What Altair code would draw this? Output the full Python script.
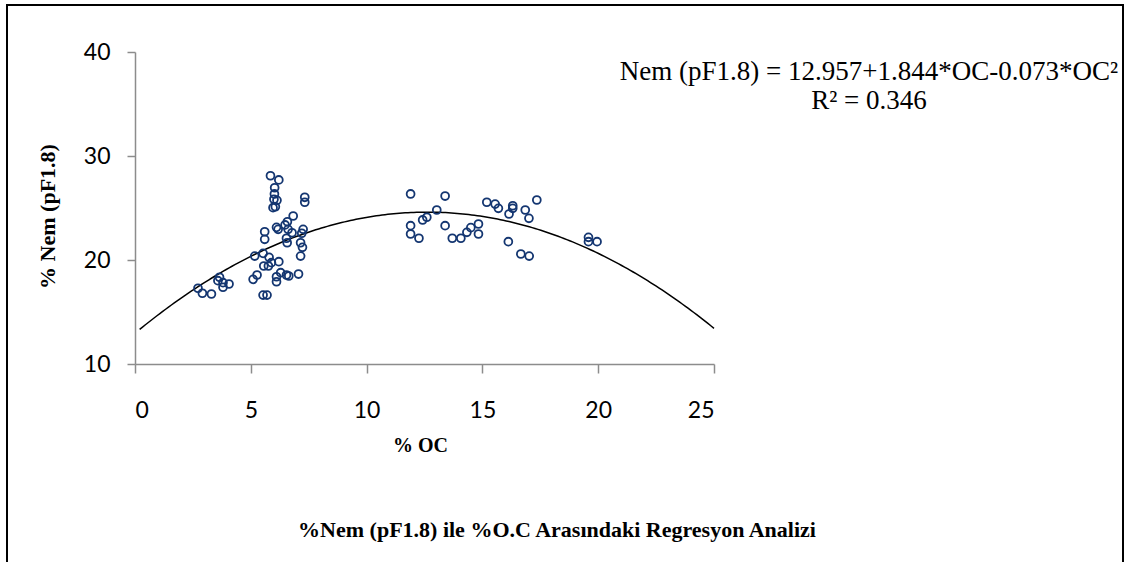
import altair as alt
import numpy as np
import pandas as pd

# Organic carbon (%) and moisture at pF 1.8 (%) for each sample
oc = [
    5.85, 6.21, 6.03, 6.02, 6.00, 6.13, 5.96, 6.06, 7.33, 7.33,
    6.83, 6.58, 6.48, 6.61, 6.11, 6.18, 5.60, 5.60, 7.26, 7.20,
    6.78, 6.54, 6.57, 7.15, 7.23, 7.15, 5.17, 5.53, 5.79, 5.89,
    6.21, 5.56, 5.76, 5.10, 5.27, 6.11, 6.29, 6.11, 6.54, 6.64,
    7.06, 3.65, 3.58, 3.80, 4.06, 3.80, 2.72, 2.91, 3.30, 5.53,
    5.70,
    11.90, 13.39, 13.03, 12.60, 12.42, 11.90, 11.90, 12.26, 13.39, 13.70,
    14.07, 14.33, 14.50, 14.83, 14.83, 15.19, 15.55, 15.69, 16.31, 16.31,
    16.15, 16.85, 17.01, 17.35, 16.12, 16.66, 17.02, 19.58, 19.58, 19.95,
]
nem = [
    28.1, 27.7, 26.95, 26.35, 25.84, 25.74, 25.03, 25.12, 26.03, 25.55,
    24.23, 23.68, 23.37, 22.95, 23.14, 22.95, 22.72, 21.99, 22.95, 22.57,
    22.62, 22.09, 21.66, 21.66, 21.22, 20.38, 20.38, 20.64, 20.26, 19.74,
    19.84, 19.42, 19.42, 18.14, 18.56, 18.39, 18.78, 17.91, 18.56, 18.46,
    18.65, 18.34, 18.01, 17.82, 17.69, 17.38, 17.28, 16.80, 16.73, 16.63,
    16.63,
    26.35, 26.15, 24.81, 24.11, 23.85, 23.30, 22.50, 22.09, 23.30, 22.09,
    22.09, 22.66, 23.11, 23.46, 22.50, 25.55, 25.38, 24.97, 25.22, 24.97,
    24.42, 24.81, 24.01, 25.77, 21.76, 20.58, 20.38, 22.18, 21.76, 21.76,
]

# Second-order fit reported on the chart
b0, b1, b2 = 12.957, 1.844, -0.073
r2 = 0.346
fit_x = np.linspace(0.2, 25, 200)
fit_y = b0 + b1 * fit_x + b2 * fit_x ** 2

x_ticks = [0, 5, 10, 15, 20, 25]
y_ticks = [10, 20, 30, 40]

points = pd.DataFrame({"oc": oc, "nem": nem})
curve = pd.DataFrame({"oc": fit_x, "nem": fit_y})

W, H = 579, 312
LEFT, TOP = 135, 52
GREY = "#8c8c8c"

x_enc = alt.X(
    "oc:Q",
    scale=alt.Scale(domain=[0, 25], nice=False, zero=False),
    axis=alt.Axis(
        values=x_ticks, title="% OC", grid=False,
        titleFont="Liberation Serif", titleFontSize=20, titleFontWeight="bold",
        titleColor="black", titleX=285, titleY=81, titleBaseline="middle",
        labelFont="Lato", labelFontSize=23, labelColor="black",
        labelPadding=26, tickSize=9, tickColor=GREY, domainColor=GREY,
        domainWidth=1.5, tickWidth=1.5,
    ),
)
y_enc = alt.Y(
    "nem:Q",
    scale=alt.Scale(domain=[10, 40], nice=False, zero=False),
    axis=alt.Axis(
        values=y_ticks, title="% Nem  (pF1.8)", grid=False,
        titleFont="Liberation Serif", titleFontSize=22, titleFontWeight="bold",
        titleColor="black", titleX=-88, titleY=164, titleAngle=-90,
        titleAlign="center", titleBaseline="middle",
        labelFont="Lato", labelFontSize=23, labelColor="black",
        labelPadding=17, tickSize=8, tickColor=GREY, domainColor=GREY,
        domainWidth=1.5, tickWidth=1.5,
    ),
)

scatter = alt.Chart(points).mark_point(
    shape="circle", filled=False, size=62, strokeWidth=1.8, color="#143671", opacity=1
).encode(x=x_enc, y=y_enc)

fit_line = alt.Chart(curve).mark_line(color="black", strokeWidth=1.5).encode(
    x="oc:Q", y="nem:Q"
)

one = pd.DataFrame({"k": [0]})

frame = alt.Chart(one).mark_rect(fill=None, stroke="black", strokeWidth=2).encode(
    x=alt.value(7 - LEFT), x2=alt.value(1123 - LEFT),
    y=alt.value(5 - TOP), y2=alt.value(575 - TOP),
)

eq_text = f"Nem (pF1.8) = {b0}+{b1}*OC{b2}*OC²"
r2_text = f"R² = {r2}"

equation = alt.Chart(one).mark_text(
    font="Liberation Serif", fontSize=27, color="black", align="center", baseline="middle"
).encode(x=alt.value(869 - LEFT), y=alt.value(72 - TOP), text=alt.value(eq_text))

r2_label = alt.Chart(one).mark_text(
    font="Liberation Serif", fontSize=27, color="black", align="center", baseline="middle"
).encode(x=alt.value(869 - LEFT), y=alt.value(101 - TOP), text=alt.value(r2_text))

caption = alt.Chart(one).mark_text(
    font="Liberation Serif", fontSize=22, fontWeight="bold", color="black",
    align="center", baseline="middle"
).encode(
    x=alt.value(557 - LEFT), y=alt.value(530 - TOP),
    text=alt.value("%Nem (pF1.8) ile %O.C Arasındaki Regresyon Analizi"),
)

chart = (
    alt.layer(frame, fit_line, scatter, equation, r2_label, caption)
    .properties(
        width=W, height=H,
        autosize=alt.AutoSizeParams(type="none"),
        padding={"left": LEFT, "top": TOP, "right": 1129 - LEFT - W, "bottom": 562 - TOP - H},
        background="white",
    )
    .configure_view(stroke=None)
)

chart.save("out.html", embed_options={"renderer": "svg", "actions": False})
